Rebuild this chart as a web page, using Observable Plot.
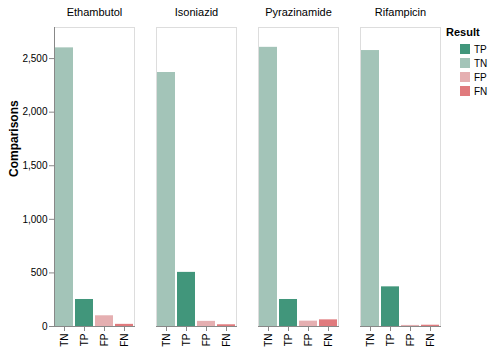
<!DOCTYPE html>
<html>
<head>
<meta charset="utf-8">
<script src="https://cdn.jsdelivr.net/npm/d3@7"></script>
<script src="https://cdn.jsdelivr.net/npm/@observablehq/plot@0.6"></script>
<style>
  body { margin: 0; background: #fff; font-family: "Liberation Sans", Arial, sans-serif; }
  #wrap { position: relative; width: 498px; height: 353px; }
  #legend { position: absolute; left: 446px; top: 26px; font-size: 11px; color: #000; }
  #legend .title { font-weight: bold; font-size: 11px; margin-bottom: 4px; }
  #legend .item { display: flex; align-items: center; height: 14px; margin-left: 14px; font-size: 10px; }
  #legend .sw { width: 10px; height: 10px; margin-right: 4px; }
</style>
</head>
<body>
<div id="wrap"></div>
<script>
const drugs = ["Ethambutol", "Isoniazid", "Pyrazinamide", "Rifampicin"];
const results = ["TN", "TP", "FP", "FN"];
const ethambutol = [2600, 252, 100, 20];
const isoniazid = [2370, 505, 48, 16];
const pyrazinamide = [2605, 252, 50, 62];
const rifampicin = [2575, 370, 10, 12];
const legendOrder = ["TP", "TN", "FP", "FN"];
const legendColors = ["#41967b", "#a3c4b8", "#e5afb1", "#e07a7d"];

const series = [ethambutol, isoniazid, pyrazinamide, rifampicin];
const data = [];
drugs.forEach((d, i) => results.forEach((r, j) => data.push({drug: d, result: r, value: series[i][j]})));

const chart = Plot.plot({
  width: 498,
  height: 353,
  marginLeft: 53,
  marginRight: 56,
  marginTop: 27,
  marginBottom: 27,
  style: {fontFamily: "Liberation Sans, Arial, sans-serif", fontSize: "10px", background: "transparent"},
  fx: {domain: drugs, padding: 0.214, label: null},
  x: {domain: results, paddingInner: 0.1, paddingOuter: 0.05, label: null},
  y: {domain: [0, 2790], label: null},
  color: {domain: legendOrder, range: legendColors},
  marks: [
    Plot.frame({stroke: "#ddd"}),
    Plot.barY(data, {fx: "drug", x: "result", y: "value", fill: "result"}),
    Plot.frame({anchor: "bottom", stroke: "#888"}),
    Plot.frame({anchor: "left", stroke: "#888", facetAnchor: "left"}),
    Plot.axisY({ticks: [0, 500, 1000, 1500, 2000, 2500], tickFormat: d3.format(","), tickSize: 5, tickPadding: 2, stroke: "#888", fill: "#000", label: null, facetAnchor: "left", fontSize: 10}),
    Plot.axisX({tickRotate: -90, tickSize: 5, tickPadding: 2, stroke: "#888", fill: "#000", label: null, fontSize: 10}),
    Plot.axisFx({anchor: "top", tickSize: 0, tickPadding: 12, label: null, fontSize: 11, fill: "#000"}),
    Plot.text(["Comparisons"], {frameAnchor: "left", dx: -40, rotate: -90, fontWeight: "bold", fontSize: 12, facetAnchor: "left", fill: "#000"})
  ]
});
document.getElementById("wrap").appendChild(chart);

const legend = document.createElement("div");
legend.id = "legend";
const t = document.createElement("div");
t.className = "title";
t.textContent = "Result";
legend.appendChild(t);
legendOrder.forEach((r, i) => {
  const it = document.createElement("div");
  it.className = "item";
  const sw = document.createElement("div");
  sw.className = "sw";
  sw.style.background = legendColors[i];
  const lb = document.createElement("span");
  lb.textContent = r;
  it.appendChild(sw);
  it.appendChild(lb);
  legend.appendChild(it);
});
document.getElementById("wrap").appendChild(legend);
</script>
</body>
</html>
